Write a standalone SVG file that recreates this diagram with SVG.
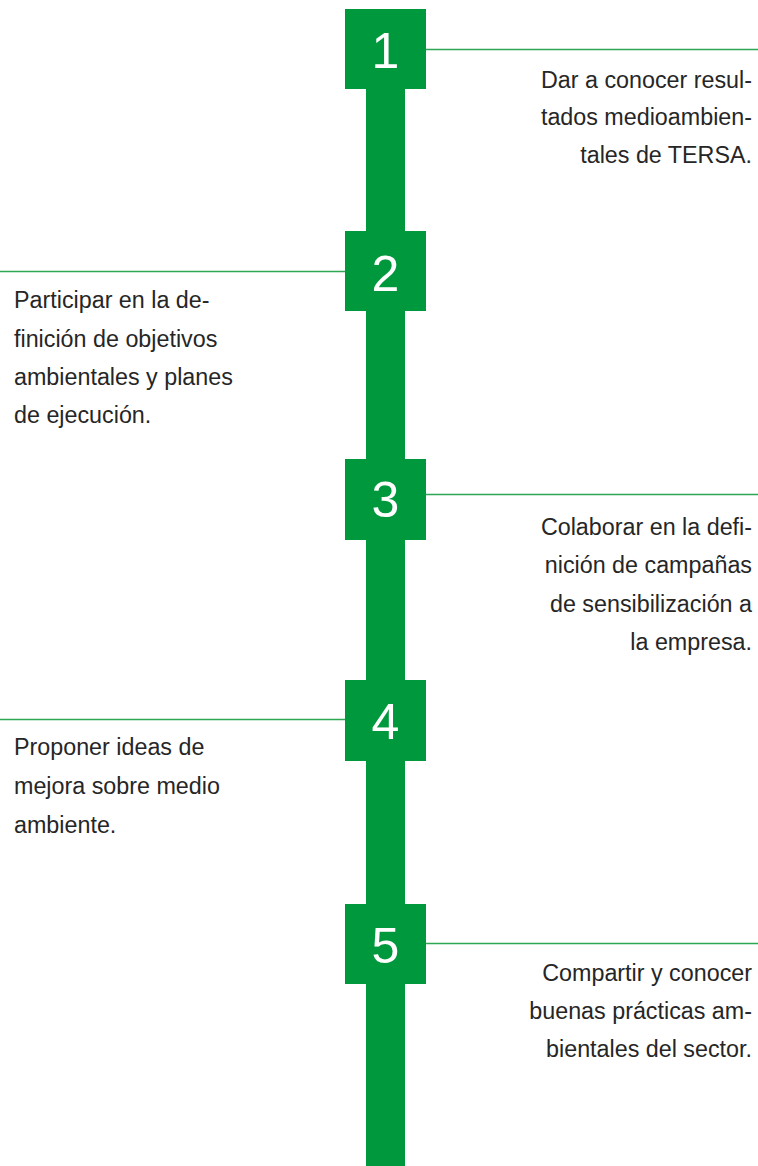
<svg xmlns="http://www.w3.org/2000/svg" width="758" height="1166" viewBox="0 0 758 1166">
<style>
.box{fill:#00983c}
.stem{fill:#00983c}
.conn{stroke:#2fa653;stroke-width:1.4;fill:none}
.num{font-family:"Liberation Sans",Arial,sans-serif;font-size:50px;fill:#ffffff;text-anchor:middle}
.txt{font-family:"Liberation Sans",Arial,sans-serif;font-size:23.3px;fill:#262626}
.r{text-anchor:end}
</style>
<rect width="758" height="1166" fill="#ffffff"/>
<rect class="stem" x="366" y="9" width="39" height="1157"/>
<g id="connectors">
<line class="conn" x1="426" y1="49.5" x2="758" y2="49.5"/>
<line class="conn" x1="0" y1="271.5" x2="345" y2="271.5"/>
<line class="conn" x1="426" y1="494.5" x2="758" y2="494.5"/>
<line class="conn" x1="0" y1="719.5" x2="345" y2="719.5"/>
<line class="conn" x1="426" y1="943.5" x2="758" y2="943.5"/>
</g>
<g id="node1">
<rect class="box" x="345" y="9" width="81" height="80"/>
<text class="num" x="385.5" y="68">1</text>
<text class="txt r" x="752" y="88">Dar a conocer resul-</text>
<text class="txt r" x="752" y="125">tados medioambien-</text>
<text class="txt r" x="752" y="163">tales de TERSA.</text>
</g>
<g id="node2">
<rect class="box" x="345" y="231" width="81" height="80"/>
<text class="num" x="385.5" y="291">2</text>
<text class="txt" x="14" y="308">Participar en la de-</text>
<text class="txt" x="14" y="347">finición de objetivos</text>
<text class="txt" x="14" y="385">ambientales y planes</text>
<text class="txt" x="14" y="423">de ejecución.</text>
</g>
<g id="node3">
<rect class="box" x="345" y="459" width="81" height="81"/>
<text class="num" x="385.5" y="517">3</text>
<text class="txt r" x="752" y="535">Colaborar en la defi-</text>
<text class="txt r" x="752" y="573">nición de campañas</text>
<text class="txt r" x="752" y="612">de sensibilización a</text>
<text class="txt r" x="752" y="650">la empresa.</text>
</g>
<g id="node4">
<rect class="box" x="345" y="680" width="81" height="81"/>
<text class="num" x="385.5" y="739">4</text>
<text class="txt" x="14" y="755">Proponer ideas de</text>
<text class="txt" x="14" y="794">mejora sobre medio</text>
<text class="txt" x="14" y="833">ambiente.</text>
</g>
<g id="node5">
<rect class="box" x="345" y="904" width="81" height="80"/>
<text class="num" x="385.5" y="963">5</text>
<text class="txt r" x="752" y="981">Compartir y conocer</text>
<text class="txt r" x="752" y="1019">buenas prácticas am-</text>
<text class="txt r" x="752" y="1057">bientales del sector.</text>
</g>
</svg>
